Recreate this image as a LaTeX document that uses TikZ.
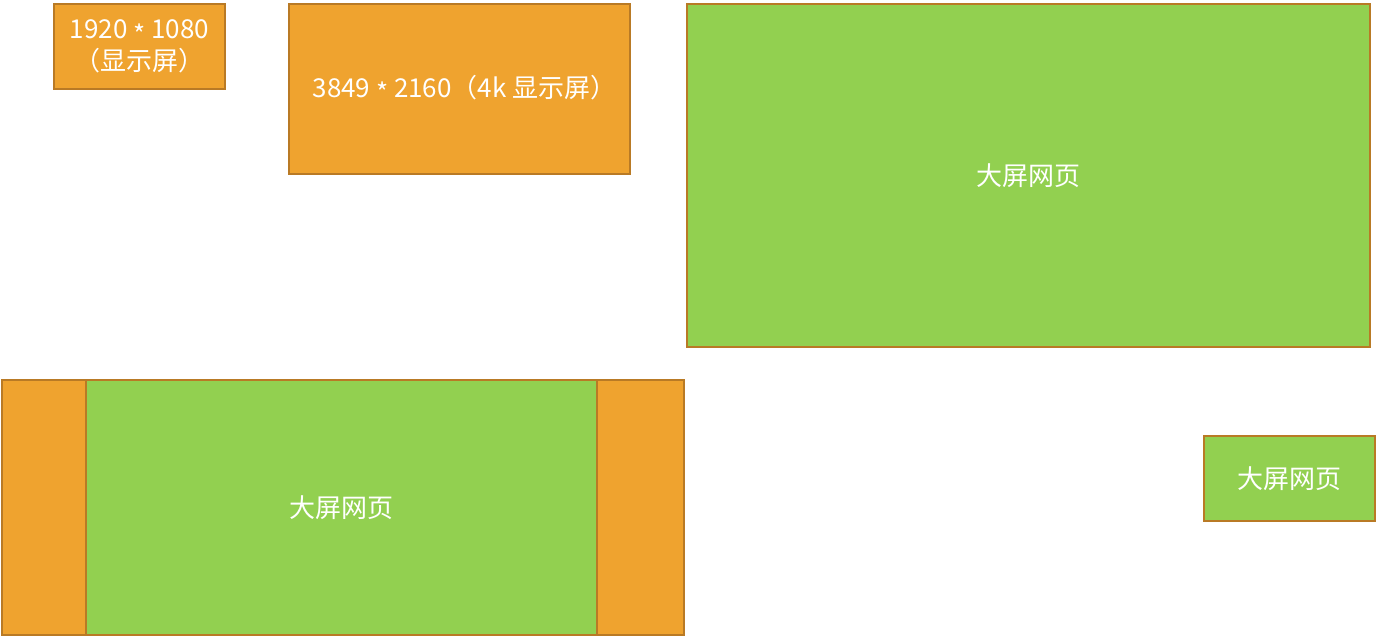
\documentclass[tikz,border=0pt]{standalone}
\usepackage{fontspec}
\setmainfont{Noto Sans CJK SC}
\definecolor{boxorange}{HTML}{EFA32F}
\definecolor{boxgreen}{HTML}{92D050}
\definecolor{boxedge}{HTML}{B97A25}
\newcommand{\midstar}{\raisebox{-0.22em}{*}}
\begin{document}
\begin{tikzpicture}[x=1pt,y=-1pt,
  screen/.style={draw=boxedge,line width=1.3pt,rectangle,inner sep=0pt,outer sep=0pt,anchor=north west,
    text=white,font=\fontsize{26}{32}\selectfont,align=center},
  orangebox/.style={screen,fill=boxorange},
  greenbox/.style={screen,fill=boxgreen}]
\useasboundingbox (0,0) rectangle (1376,636);
% top row
\node[orangebox,minimum width=171pt,minimum height=85pt] (hd) at (54,4) {1920 \midstar{} 1080\\（显示屏）};
\node[orangebox,minimum width=341pt,minimum height=170pt] (uhd) at (289,4) {\hspace*{10pt}3849 \midstar{} 2160（4k 显示屏）};
\node[greenbox,minimum width=683pt,minimum height=343pt] (big) at (687,4) {大屏网页};
\draw[boxedge,line width=2.2pt] (big.north west) -- (big.north east);
% bottom row
\node[orangebox,minimum width=682pt,minimum height=255pt] (outer) at (2,380) {};
\node[greenbox,minimum width=511pt,minimum height=255pt] (mid) at (86,380) {大屏网页};
\node[greenbox,minimum width=171pt,minimum height=85pt] (small) at (1204,436) {大屏网页};
\end{tikzpicture}
\end{document}
